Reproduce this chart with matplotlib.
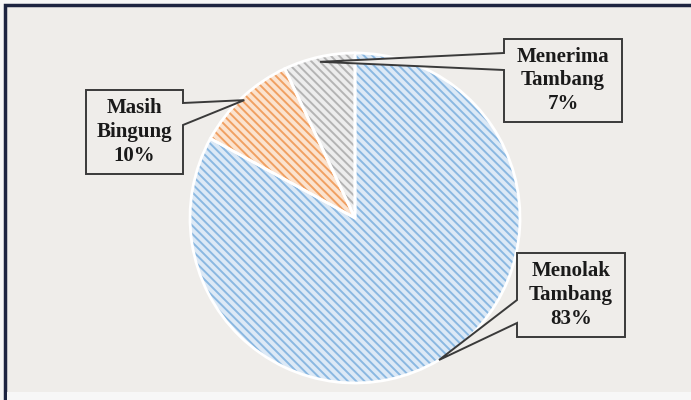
import numpy as np
import matplotlib
matplotlib.use("Agg")
import matplotlib.pyplot as plt
from matplotlib.patches import Polygon, Rectangle

labels = ["Menolak\nTambang", "Masih\nBingung", "Menerima\nTambang"]
values = [83, 10, 7]
face_cols = ["#dce9f6", "#fbe3cf", "#ededed"]
hatch_cols = ["#8ab8e1", "#f0a062", "#b4b4b4"]

# callout boxes in pixel coords (left, top, right, bottom) and pointer rows on box side
boxes = [(517, 253, 625, 337), (86, 90, 183, 174), (504, 39, 622, 122)]
notch = [(300, 323), (103, 125), (53, 70)]
tip_r = [1.0, 0.98, 0.97]

W, H = 691, 400
CX, CY, R = 355, 218, 165
BG = "#efedea"

def px(x, y):  # pixel -> data
    return ((x - CX) / R, (CY - y) / R)

plt.rcParams["hatch.linewidth"] = 1.4
fig = plt.figure(figsize=(W / 100, H / 100), dpi=100)
fig.patch.set_facecolor("#f6f6f6")
ax = fig.add_axes([0, 0, 1, 1])

# frame
x0, y0 = px(5, 5)
x1, y1 = px(720, 430)
ax.add_patch(Rectangle((x0, y1), x1 - x0, y0 - y1, facecolor=BG, edgecolor="#1d2440",
                       linewidth=2.5, zorder=0))
sx, sy = px(7, 392)
ax.add_patch(Rectangle((sx, y1), x1 - sx, sy - y1, facecolor="#f7f7f7", edgecolor="none",
                       zorder=0.5))

wedges, _ = ax.pie(values, colors=face_cols, startangle=90, counterclock=False,
                   radius=1, center=(0, 0), frame=True, wedgeprops=dict(linewidth=0))
for w, hc in zip(wedges, hatch_cols):
    w.set_hatch("\\" * 4)   # 4*6 lines per inch-unit
    w.set_edgecolor(hc)
    w.set_linewidth(0)
ax.pie(values, startangle=90, counterclock=False, radius=1, center=(0, 0), frame=True,
       wedgeprops=dict(fill=False, edgecolor="white", linewidth=2))
ax.set_xlim(-CX / R, (W - CX) / R)
ax.set_ylim((CY - H) / R, CY / R)
ax.set_aspect("equal")
ax.axis("off")

for w, lab, v, b, n, tr in zip(wedges, labels, values, boxes, notch, tip_r):
    mid = np.deg2rad((w.theta1 + w.theta2) / 2)
    tip = (tr * np.cos(mid), tr * np.sin(mid))
    l, t, r, btm = b
    if px(l, 0)[0] > tip[0]:
        pts = [px(l, t), px(r, t), px(r, btm), px(l, btm), px(l, n[1]), tip, px(l, n[0])]
    else:
        pts = [px(l, t), px(r, t), px(r, n[0]), tip, px(r, n[1]), px(r, btm), px(l, btm)]
    ax.add_patch(Polygon(pts, closed=True, facecolor=BG, edgecolor="#3a3a3a",
                         linewidth=1.4, zorder=5))
    cx, cy = px((l + r) / 2, (t + btm) / 2)
    ax.text(cx, cy, f"{lab}\n{v}%", ha="center", va="center", fontsize=15,
            fontweight="bold", family="Liberation Serif", color="#1a1a1a",
            linespacing=1.25, zorder=6)

fig.savefig("out.png", dpi=100, facecolor=fig.get_facecolor())
